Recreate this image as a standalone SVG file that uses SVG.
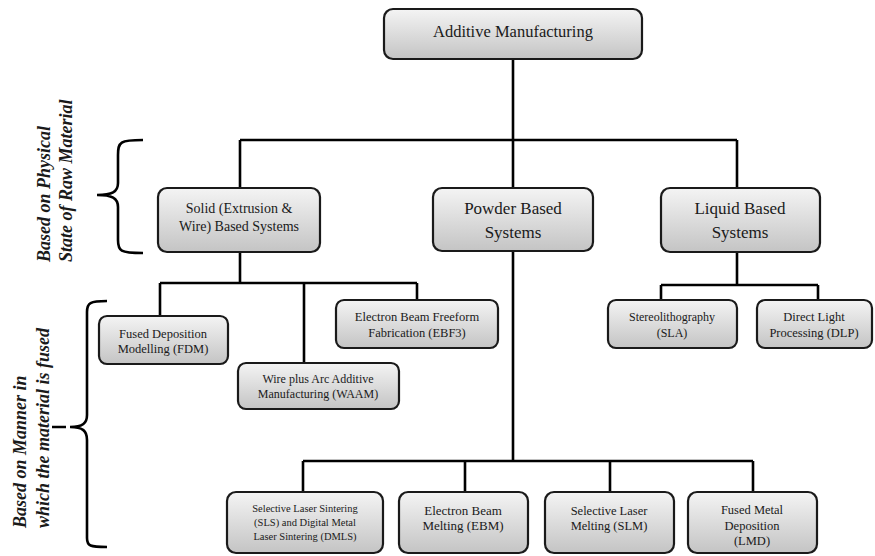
<svg xmlns="http://www.w3.org/2000/svg" width="875" height="556" viewBox="0 0 875 556" font-family="'Liberation Serif', 'DejaVu Serif', serif">
<defs>
<linearGradient id="g" x1="0" y1="0" x2="0" y2="1">
<stop offset="0" stop-color="#f4f4f4"/>
<stop offset="1" stop-color="#c4c4c4"/>
</linearGradient>
</defs>
<style>
.box{fill:url(#g);stroke:#1a1a1a;stroke-width:2.2}
.t{font-family:'Liberation Serif','DejaVu Serif',serif;fill:#1a1a1a;text-anchor:middle}
.c{fill:none;stroke:#000;stroke-width:2.6}
.lbl{font-family:'Liberation Serif','DejaVu Serif',serif;font-weight:bold;font-style:italic;font-size:18px;fill:#1a1a1a}
</style>
<rect width="875" height="556" fill="#fff"/>
<g id="connectors" class="c">
<path d="M513 59V140M240 140H737M240 140V188M513 140V188M737 140V188"/>
<path d="M240 252V283M160 283H417M160 283V316M304 283V363M417 283V300"/>
<path d="M737 252V285M661 285H818M661 285V300M818 285V300"/>
<path d="M513 251V461M303 461H753M303 461V492M465 461V492M610 461V492M753 461V492"/>
</g>
<g id="brace1" class="c">
<path d="M143 140C120 140 118 142 118 155V183C118 192 112 195 97 195C112 195 118 198 118 207V240C118 251 120 253 143 253"/>
</g>
<g id="brace2" class="c">
<path d="M107 301C90 301 87 303 87 312V415C87 423 83 427 70 427M66 427H52M70 427C83 427 87 431 87 440V538C87 546 90 547 107 547"/>
</g>
<g id="label1">
<text class="lbl" transform="translate(50,262) rotate(-90)">Based on Physical</text>
<text class="lbl" transform="translate(72,262) rotate(-90)">State of Raw Material</text>
</g>
<g id="label2">
<text class="lbl" transform="translate(26,528) rotate(-90)">Based on Manner in</text>
<text class="lbl" transform="translate(49,528) rotate(-90)">which the material is fused</text>
</g>
<g id="am"><rect class="box" x="384" y="9" width="258" height="50" rx="9"/><text class="t" x="513" y="37" font-size="16.5">Additive Manufacturing</text></g>
<g id="solid"><rect class="box" x="158" y="188" width="162" height="64" rx="9"/><text class="t" x="239" y="213" font-size="14">Solid (Extrusion &amp;</text><text class="t" x="239" y="231" font-size="14">Wire) Based Systems</text></g>
<g id="powder"><rect class="box" x="433" y="188" width="160" height="63" rx="9"/><text class="t" x="513" y="214" font-size="17">Powder Based</text><text class="t" x="513" y="238" font-size="17">Systems</text></g>
<g id="liquid"><rect class="box" x="661" y="188" width="159" height="64" rx="9"/><text class="t" x="740" y="214" font-size="17">Liquid Based</text><text class="t" x="740" y="238" font-size="17">Systems</text></g>
<g id="fdm"><rect class="box" x="99" y="316" width="129" height="48" rx="8"/><text class="t" x="163" y="338" font-size="12.5">Fused Deposition</text><text class="t" x="163" y="353" font-size="12.5">Modelling (FDM)</text></g>
<g id="waam"><rect class="box" x="238" y="363" width="161" height="46" rx="8"/><text class="t" x="318" y="383" font-size="12">Wire plus Arc Additive</text><text class="t" x="318" y="398" font-size="12">Manufacturing (WAAM)</text></g>
<g id="ebf3"><rect class="box" x="336" y="300" width="162" height="48" rx="8"/><text class="t" x="417" y="321" font-size="12.5">Electron Beam Freeform</text><text class="t" x="417" y="337" font-size="12.5">Fabrication (EBF3)</text></g>
<g id="sla"><rect class="box" x="608" y="300" width="129" height="48" rx="8"/><text class="t" x="672" y="321" font-size="12">Stereolithography</text><text class="t" x="672" y="337" font-size="12">(SLA)</text></g>
<g id="dlp"><rect class="box" x="757" y="300" width="115" height="48" rx="8"/><text class="t" x="814" y="321" font-size="12.5">Direct Light</text><text class="t" x="814" y="337" font-size="12.5">Processing (DLP)</text></g>
<g id="sls"><rect class="box" x="227" y="492" width="156" height="61" rx="9"/><text class="t" x="305" y="512" font-size="10.5">Selective Laser Sintering</text><text class="t" x="305" y="526" font-size="10.5">(SLS) and Digital Metal</text><text class="t" x="305" y="540" font-size="10.5">Laser Sintering (DMLS)</text></g>
<g id="ebm"><rect class="box" x="399" y="492" width="129" height="61" rx="9"/><text class="t" x="463" y="515" font-size="13">Electron Beam</text><text class="t" x="463" y="530" font-size="13">Melting (EBM)</text></g>
<g id="slm"><rect class="box" x="545" y="492" width="129" height="61" rx="9"/><text class="t" x="609" y="515" font-size="12.5">Selective Laser</text><text class="t" x="609" y="530" font-size="12.5">Melting (SLM)</text></g>
<g id="lmd"><rect class="box" x="688" y="492" width="129" height="61" rx="9"/><text class="t" x="752" y="514" font-size="12.5">Fused Metal</text><text class="t" x="752" y="530" font-size="12.5">Deposition</text><text class="t" x="752" y="545" font-size="12.5">(LMD)</text></g>
</svg>
